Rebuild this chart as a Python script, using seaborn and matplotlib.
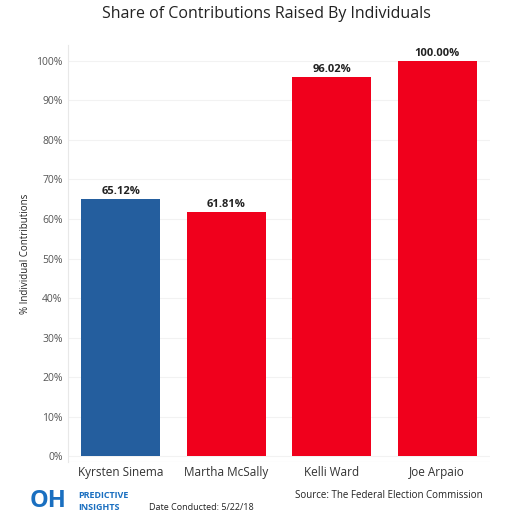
import matplotlib
matplotlib.use("Agg")
import matplotlib.pyplot as plt
import seaborn as sns
import pandas as pd

candidates = ["Kyrsten Sinema", "Martha McSally", "Kelli Ward", "Joe Arpaio"]
shares = [65.12, 61.81, 96.02, 100.00]
bar_colors = ["#245e9e", "#f0001c", "#f0001c", "#f0001c"]
ytick_vals = [0, 10, 20, 30, 40, 50, 60, 70, 80, 90, 100]

df = pd.DataFrame({"candidate": candidates, "share": shares})

sns.set_style("white")
plt.rcParams["font.family"] = ["Open Sans", "DejaVu Sans"]

fig = plt.figure(figsize=(5.32, 5.17), dpi=100)
ax = fig.add_axes([0.128, 0.106, 0.793, 0.807])
sns.barplot(data=df, x="candidate", y="share", hue="candidate",
            palette=bar_colors, saturation=1, width=0.75, legend=False, ax=ax,
            edgecolor="none", zorder=3)

for i, v in enumerate(shares):
    ax.text(i, v + 0.4, f"{v:.2f}%", ha="center", va="bottom",
            fontsize=8, fontweight="bold", color="#222222")

ax.set_ylim(-1.5, 104)
ax.set_xlim(-0.5, 3.5)
ax.set_yticks(ytick_vals)
ax.set_yticklabels([f"{v}%" for v in ytick_vals], fontsize=7.5, color="#555555")
ax.yaxis.grid(True, color="#f2f2f2", lw=0.8, zorder=0)
ax.set_axisbelow(True)
ax.tick_params(axis="x", labelsize=8.5, colors="#333333", length=0, pad=3)
ax.tick_params(axis="y", length=0, pad=4)
ax.set_xlabel("")
ax.set_ylabel("% Individual Contributions", fontsize=7, color="#222222")
for s in ["top", "right", "bottom"]:
    ax.spines[s].set_visible(False)
ax.spines["left"].set_color("#e8e8e8")
ax.axhline(-1.5, color="#e8e8e8", lw=0.8)

fig.text(0.5, 0.972, "Share of Contributions Raised By Individuals",
         ha="center", va="center", fontsize=11.5, color="#222222")
fig.text(0.055, 0.03, "OH", fontsize=17, fontweight="bold", color="#1a6fc0",
         ha="left", va="center")
fig.text(0.148, 0.042, "PREDICTIVE", fontsize=6.5, fontweight="bold",
         color="#1a6fc0", ha="left", va="center")
fig.text(0.148, 0.018, "INSIGHTS", fontsize=6.5, fontweight="bold",
         color="#1a6fc0", ha="left", va="center")
fig.text(0.28, 0.018, "Date Conducted: 5/22/18", fontsize=6.5,
         color="#222222", ha="left", va="center")
fig.text(0.555, 0.042, "Source: The Federal Election Commission", fontsize=7,
         color="#222222", ha="left", va="center")

fig.savefig("out.png", dpi=100)
